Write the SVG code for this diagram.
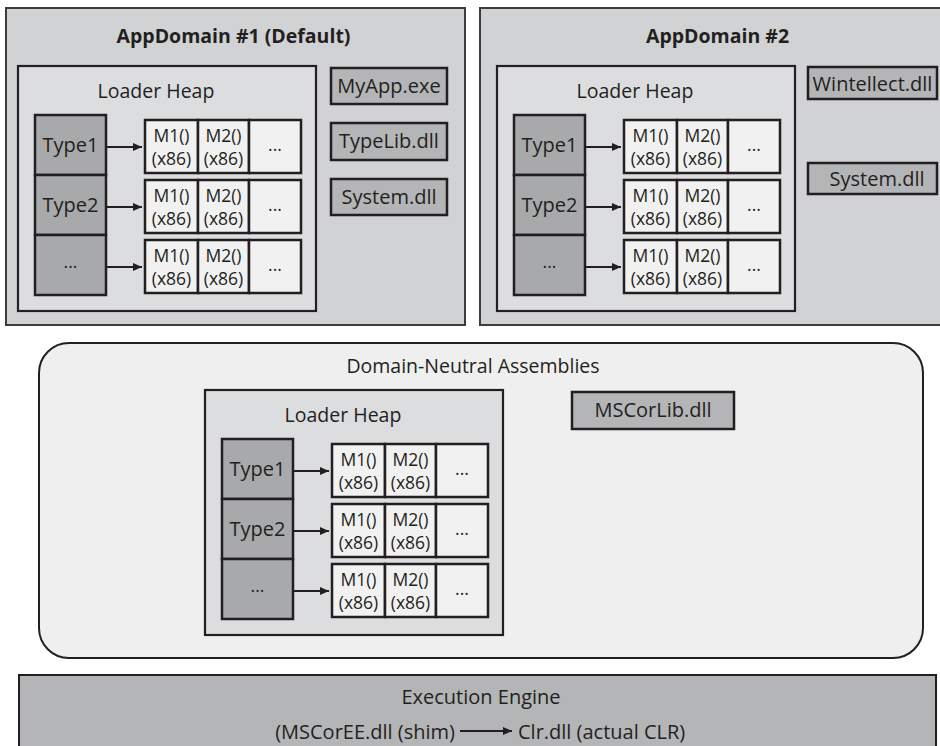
<svg xmlns="http://www.w3.org/2000/svg" width="940" height="746" viewBox="0 0 940 746">
<defs>
<style>
.ad{fill:#d1d2d4;stroke:#3c3c3c;stroke-width:2}
.heap{fill:#dcdddf;stroke:#231f20;stroke-width:2.2}
.type{fill:#a8a9ab;stroke:#231f20;stroke-width:2.5}
.cell{fill:#f1f1f1;stroke:#231f20;stroke-width:2.5}
.asm{fill:#b4b5b7;stroke:#231f20;stroke-width:2.5}
.dn{fill:#efefef;stroke:#231f20;stroke-width:2}
.ee{fill:#b4b5b7;stroke:#231f20;stroke-width:2}
text{font-family:"Open Sans","Noto Sans","DejaVu Sans",sans-serif;fill:#231f20;text-anchor:middle}
.t19{font-size:19.5px}
.t20{font-size:20px}
.t17{font-size:17.5px}
.title{font-size:19.5px;font-weight:bold}
.conn{stroke:#231f20;stroke-width:2;fill:none}
</style>
<marker id="ah" markerUnits="userSpaceOnUse" markerWidth="9" markerHeight="8" refX="9" refY="4" orient="auto"><path d="M0,0 L9,4 L0,8 z" fill="#231f20"/></marker>
</defs>
<rect width="940" height="746" fill="#ffffff"/>

<!-- AppDomain #1 -->
<g id="appdomain1">
<rect class="ad" x="6" y="8" width="459" height="317"/>
<text class="title" x="233.5" y="43">AppDomain #1 (Default)</text>
</g>
<!-- AppDomain #2 -->
<g id="appdomain2">
<rect class="ad" x="480" y="8" width="470" height="317"/>
<text class="title" x="717.5" y="43">AppDomain #2</text>
</g>
<!-- Domain-neutral -->
<g id="domainNeutral">
<rect class="dn" x="39" y="343" width="884" height="315" rx="30" ry="30"/>
<text class="t19" x="473" y="373">Domain-Neutral Assemblies</text>
</g>

<!-- Loader heaps -->
<g id="heap1">
<rect class="heap" x="18" y="66" width="298" height="245"/>
<text class="t19" x="156" y="98">Loader Heap</text>
<g id="heap1-type1"><rect class="type" x="35" y="115" width="71" height="60"/><text class="t20" x="70.5" y="152">Type1</text></g>
<g id="heap1-type2"><rect class="type" x="35" y="175" width="71" height="60"/><text class="t20" x="70.5" y="212">Type2</text></g>
<g id="heap1-type3"><rect class="type" x="35" y="235" width="71" height="60"/><text class="t17" x="70.5" y="268">...</text></g>
<g id="heap1-row1"><rect class="cell" x="145" y="120" width="53" height="53"/><rect class="cell" x="198" y="120" width="51" height="53"/><rect class="cell" x="249" y="120" width="52" height="53"/>
<text class="t17" x="171.5" y="142">M1()</text><text class="t17" x="171.5" y="165">(x86)</text><text class="t17" x="223.5" y="142">M2()</text><text class="t17" x="223.5" y="165">(x86)</text><text class="t17" x="275" y="151">...</text></g>
<g id="heap1-row2"><rect class="cell" x="145" y="180" width="53" height="53"/><rect class="cell" x="198" y="180" width="51" height="53"/><rect class="cell" x="249" y="180" width="52" height="53"/>
<text class="t17" x="171.5" y="202">M1()</text><text class="t17" x="171.5" y="225">(x86)</text><text class="t17" x="223.5" y="202">M2()</text><text class="t17" x="223.5" y="225">(x86)</text><text class="t17" x="275" y="211">...</text></g>
<g id="heap1-row3"><rect class="cell" x="145" y="240" width="53" height="53"/><rect class="cell" x="198" y="240" width="51" height="53"/><rect class="cell" x="249" y="240" width="52" height="53"/>
<text class="t17" x="171.5" y="262">M1()</text><text class="t17" x="171.5" y="285">(x86)</text><text class="t17" x="223.5" y="262">M2()</text><text class="t17" x="223.5" y="285">(x86)</text><text class="t17" x="275" y="271">...</text></g>
</g>

<g id="heap2" transform="translate(479,0)">
<rect class="heap" x="18" y="66" width="298" height="245"/>
<text class="t19" x="156" y="98">Loader Heap</text>
<g id="heap2-type1"><rect class="type" x="35" y="115" width="71" height="60"/><text class="t20" x="70.5" y="152">Type1</text></g>
<g id="heap2-type2"><rect class="type" x="35" y="175" width="71" height="60"/><text class="t20" x="70.5" y="212">Type2</text></g>
<g id="heap2-type3"><rect class="type" x="35" y="235" width="71" height="60"/><text class="t17" x="70.5" y="268">...</text></g>
<g id="heap2-row1"><rect class="cell" x="145" y="120" width="53" height="53"/><rect class="cell" x="198" y="120" width="51" height="53"/><rect class="cell" x="249" y="120" width="52" height="53"/>
<text class="t17" x="171.5" y="142">M1()</text><text class="t17" x="171.5" y="165">(x86)</text><text class="t17" x="223.5" y="142">M2()</text><text class="t17" x="223.5" y="165">(x86)</text><text class="t17" x="275" y="151">...</text></g>
<g id="heap2-row2"><rect class="cell" x="145" y="180" width="53" height="53"/><rect class="cell" x="198" y="180" width="51" height="53"/><rect class="cell" x="249" y="180" width="52" height="53"/>
<text class="t17" x="171.5" y="202">M1()</text><text class="t17" x="171.5" y="225">(x86)</text><text class="t17" x="223.5" y="202">M2()</text><text class="t17" x="223.5" y="225">(x86)</text><text class="t17" x="275" y="211">...</text></g>
<g id="heap2-row3"><rect class="cell" x="145" y="240" width="53" height="53"/><rect class="cell" x="198" y="240" width="51" height="53"/><rect class="cell" x="249" y="240" width="52" height="53"/>
<text class="t17" x="171.5" y="262">M1()</text><text class="t17" x="171.5" y="285">(x86)</text><text class="t17" x="223.5" y="262">M2()</text><text class="t17" x="223.5" y="285">(x86)</text><text class="t17" x="275" y="271">...</text></g>
</g>

<g id="heap3" transform="translate(187,324)">
<rect class="heap" x="18" y="66" width="298" height="245"/>
<text class="t19" x="156" y="98">Loader Heap</text>
<g id="heap3-type1"><rect class="type" x="35" y="115" width="71" height="60"/><text class="t20" x="70.5" y="152">Type1</text></g>
<g id="heap3-type2"><rect class="type" x="35" y="175" width="71" height="60"/><text class="t20" x="70.5" y="212">Type2</text></g>
<g id="heap3-type3"><rect class="type" x="35" y="235" width="71" height="60"/><text class="t17" x="70.5" y="268">...</text></g>
<g id="heap3-row1"><rect class="cell" x="145" y="120" width="53" height="53"/><rect class="cell" x="198" y="120" width="51" height="53"/><rect class="cell" x="249" y="120" width="52" height="53"/>
<text class="t17" x="171.5" y="142">M1()</text><text class="t17" x="171.5" y="165">(x86)</text><text class="t17" x="223.5" y="142">M2()</text><text class="t17" x="223.5" y="165">(x86)</text><text class="t17" x="275" y="151">...</text></g>
<g id="heap3-row2"><rect class="cell" x="145" y="180" width="53" height="53"/><rect class="cell" x="198" y="180" width="51" height="53"/><rect class="cell" x="249" y="180" width="52" height="53"/>
<text class="t17" x="171.5" y="202">M1()</text><text class="t17" x="171.5" y="225">(x86)</text><text class="t17" x="223.5" y="202">M2()</text><text class="t17" x="223.5" y="225">(x86)</text><text class="t17" x="275" y="211">...</text></g>
<g id="heap3-row3"><rect class="cell" x="145" y="240" width="53" height="53"/><rect class="cell" x="198" y="240" width="51" height="53"/><rect class="cell" x="249" y="240" width="52" height="53"/>
<text class="t17" x="171.5" y="262">M1()</text><text class="t17" x="171.5" y="285">(x86)</text><text class="t17" x="223.5" y="262">M2()</text><text class="t17" x="223.5" y="285">(x86)</text><text class="t17" x="275" y="271">...</text></g>
</g>

<!-- Assemblies -->
<g id="myapp"><rect class="asm" x="331" y="68" width="116" height="36"/><text class="t20" x="389" y="93">MyApp.exe</text></g>
<g id="typelib"><rect class="asm" x="331" y="123" width="116" height="37"/><text class="t20" x="389" y="148">TypeLib.dll</text></g>
<g id="system1"><rect class="asm" x="331" y="179" width="116" height="36"/><text class="t20" x="389" y="204">System.dll</text></g>
<g id="wintellect"><rect class="asm" x="808" y="67" width="129" height="32"/><text class="t20" x="872.5" y="91">Wintellect.dll</text></g>
<g id="system2"><rect class="asm" x="808" y="163" width="129" height="31"/><text class="t20" x="877" y="185.5">System.dll</text></g>
<g id="mscorlib"><rect class="asm" x="572" y="392" width="162" height="37"/><text class="t20" x="653" y="417">MSCorLib.dll</text></g>

<!-- Execution engine -->
<g id="executionEngine">
<rect class="ee" x="19" y="675" width="917" height="90"/>
<text class="t20" x="481" y="704">Execution Engine</text>
<text class="t20" x="455" y="739" style="text-anchor:end">(MSCorEE.dll (shim)</text>
<text class="t20" x="518" y="739" style="text-anchor:start">Clr.dll (actual CLR)</text>
</g>

<!-- Connectors -->
<g id="connectors">
<g transform="translate(0,0)">
<line class="conn" x1="107" y1="147" x2="142" y2="147" marker-end="url(#ah)"/>
<line class="conn" x1="107" y1="207" x2="142" y2="207" marker-end="url(#ah)"/>
<line class="conn" x1="107" y1="267" x2="142" y2="267" marker-end="url(#ah)"/>
</g>
<g transform="translate(479,0)">
<line class="conn" x1="107" y1="147" x2="142" y2="147" marker-end="url(#ah)"/>
<line class="conn" x1="107" y1="207" x2="142" y2="207" marker-end="url(#ah)"/>
<line class="conn" x1="107" y1="267" x2="142" y2="267" marker-end="url(#ah)"/>
</g>
<g transform="translate(187,324)">
<line class="conn" x1="107" y1="147" x2="142" y2="147" marker-end="url(#ah)"/>
<line class="conn" x1="107" y1="207" x2="142" y2="207" marker-end="url(#ah)"/>
<line class="conn" x1="107" y1="267" x2="142" y2="267" marker-end="url(#ah)"/>
</g>
<line class="conn" x1="460" y1="731" x2="512" y2="731" stroke-width="1.5" marker-end="url(#ah)"/>
</g>
</svg>
